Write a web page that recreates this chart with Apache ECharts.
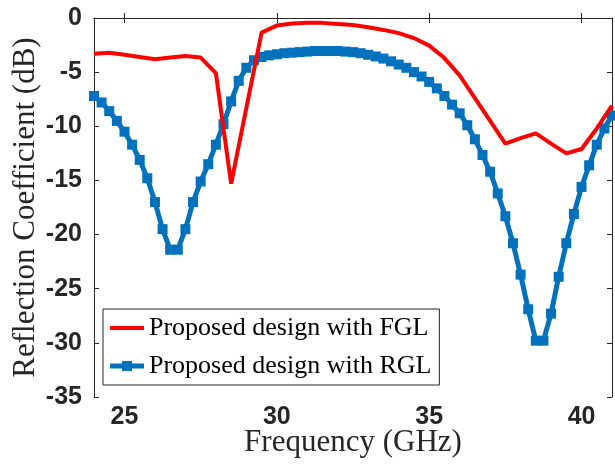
<!DOCTYPE html>
<html>
<head>
<meta charset="utf-8">
<script src="https://cdn.jsdelivr.net/npm/echarts@6/dist/echarts.min.js"></script>
<style>html,body{margin:0;padding:0;background:#fff}#c{width:615px;height:470px}</style>
</head>
<body>
<div id="c"></div>
<script>
const xTicks = [25, 30, 35, 40];
const yTicks = [0, -5, -10, -15, -20, -25, -30, -35];

const fglFreq = [24, 24.5, 25, 25.5, 26, 26.5, 27, 27.5, 28, 28.5, 29, 29.5, 30, 30.5, 31, 31.5, 32, 32.5, 33, 33.5, 34, 34.5, 35, 35.5, 36, 36.5, 37, 37.5, 38, 38.5, 39, 39.5, 40, 40.5, 41];
const fglVals = [-3.3, -3.2, -3.4, -3.6, -3.8, -3.65, -3.5, -3.65, -5.1, -15.3, -8.3, -1.35, -0.7, -0.5, -0.45, -0.45, -0.55, -0.65, -0.85, -1.1, -1.4, -1.85, -2.55, -3.7, -5.3, -7.4, -9.5, -11.6, -11.1, -10.65, -11.6, -12.5, -12.1, -10.2, -8.1];

const rglFreq = [24, 24.25, 24.5, 24.75, 25, 25.25, 25.5, 25.75, 26, 26.25, 26.5, 26.75, 27, 27.25, 27.5, 27.75, 28, 28.25, 28.5, 28.75, 29, 29.25, 29.5, 29.75, 30, 30.25, 30.5, 30.75, 31, 31.25, 31.5, 31.75, 32, 32.25, 32.5, 32.75, 33, 33.25, 33.5, 33.75, 34, 34.25, 34.5, 34.75, 35, 35.25, 35.5, 35.75, 36, 36.25, 36.5, 36.75, 37, 37.25, 37.5, 37.75, 38, 38.25, 38.5, 38.75, 39, 39.25, 39.5, 39.75, 40, 40.25, 40.5, 40.75, 41];
const rglVals = [-7.2, -7.8, -8.6, -9.5, -10.5, -11.7, -13.1, -14.8, -17.0, -19.5, -21.4, -21.4, -19.5, -17.0, -15.1, -13.5, -11.7, -9.8, -7.7, -5.8, -4.6, -3.9, -3.6, -3.45, -3.35, -3.25, -3.2, -3.15, -3.1, -3.05, -3.05, -3.05, -3.05, -3.1, -3.15, -3.25, -3.4, -3.55, -3.75, -4.0, -4.3, -4.6, -5.0, -5.4, -5.9, -6.5, -7.2, -8.0, -8.8, -9.9, -11.2, -12.65, -14.2, -16.2, -18.3, -20.8, -23.7, -26.9, -29.8, -29.8, -27.3, -23.9, -20.8, -18.1, -15.6, -13.6, -11.7, -10.2, -9.0];

const seriesNames = ['Proposed design with FGL', 'Proposed design with RGL'];

const axisColor = '#262626';
const tickLabelFont = {fontFamily: '"Liberation Sans Narrow", "Liberation Sans", Arial, sans-serif', fontWeight: 'bold', fontSize: 25, color: '#262626'};
const titleFont = {fontFamily: '"Liberation Serif", serif', fontSize: 31, color: '#262626', fontWeight: 'normal'};

const chart = echarts.init(document.getElementById('c'), null, {renderer: 'canvas'});
chart.setOption({
  animation: false,
  backgroundColor: '#ffffff',
  grid: {left: 94, right: 3, top: 18, bottom: 73, containLabel: false},
  legend: {
    orient: 'vertical',
    left: 103, top: 309,
    padding: [6, 8, 6, 7],
    itemGap: 12,
    itemWidth: 34, itemHeight: 12,
    borderColor: '#262626', borderWidth: 1,
    backgroundColor: '#ffffff',
    textStyle: {fontFamily: '"Liberation Serif", serif', fontSize: 26, color: '#000', lineHeight: 25},
    data: [
      {name: seriesNames[0], icon: 'path://M0,4 L34,4 L34,8 L0,8 Z', itemStyle: {color: '#ff0000'}},
      {name: seriesNames[1], icon: 'path://M0,3.5 L12,3.5 L12,1 L22,1 L22,3.5 L34,3.5 L34,8.5 L22,8.5 L22,11 L12,11 L12,8.5 L0,8.5 Z', itemStyle: {color: '#0072bd'}}
    ]
  },
  xAxis: [{
    type: 'value', min: 24, max: 41, position: 'bottom',
    name: 'Frequency (GHz)', nameLocation: 'middle', nameGap: 30, nameMoveOverlap: false,
    nameTextStyle: titleFont,
    axisLine: {show: true, lineStyle: {color: axisColor, width: 1}},
    axisTick: {show: true, inside: true, length: 5, customValues: xTicks, lineStyle: {color: axisColor}},
    axisLabel: {show: true, customValues: xTicks, margin: 8, ...tickLabelFont},
    splitLine: {show: false}
  }, {
    type: 'value', min: 24, max: 41, position: 'top',
    axisLine: {show: true, lineStyle: {color: axisColor, width: 1}},
    axisTick: {show: true, inside: true, length: 5, customValues: xTicks, lineStyle: {color: axisColor}},
    axisLabel: {show: false},
    splitLine: {show: false}
  }],
  yAxis: [{
    type: 'value', min: -35, max: 0, interval: 5, position: 'left',
    name: 'Reflection Coefficient (dB)', nameLocation: 'middle', nameGap: 53, nameMoveOverlap: false,
    nameTextStyle: titleFont,
    axisLine: {show: true, lineStyle: {color: axisColor, width: 1}},
    axisTick: {show: true, inside: true, length: 5, lineStyle: {color: axisColor}},
    axisLabel: {show: true, margin: 12, ...tickLabelFont},
    splitLine: {show: false}
  }, {
    type: 'value', min: -35, max: 0, interval: 5, position: 'right',
    axisLine: {show: true, lineStyle: {color: axisColor, width: 1}},
    axisTick: {show: true, inside: true, length: 5, lineStyle: {color: axisColor}},
    axisLabel: {show: false},
    splitLine: {show: false}
  }],
  series: [{
    name: seriesNames[0], type: 'line',
    data: fglFreq.map((f, i) => [f, fglVals[i]]),
    showSymbol: false, symbol: 'none',
    lineStyle: {color: '#ff0000', width: 4},
    itemStyle: {color: '#ff0000'},
    z: 3
  }, {
    name: seriesNames[1], type: 'line',
    data: rglFreq.map((f, i) => [f, rglVals[i]]),
    symbol: 'rect', symbolSize: 10, showSymbol: true,
    lineStyle: {color: '#0072bd', width: 5},
    itemStyle: {color: '#0072bd'},
    z: 2
  }]
});
</script>
</body>
</html>
